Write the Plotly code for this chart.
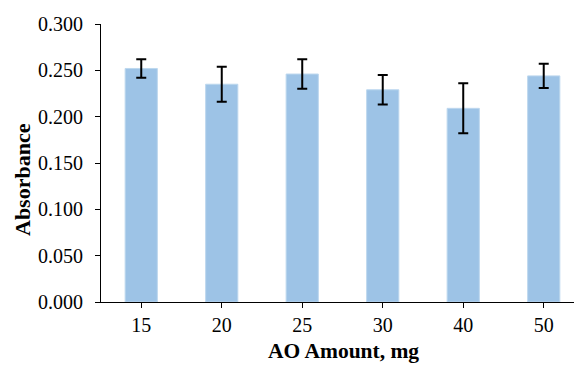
import plotly.graph_objects as go

categories = ["15", "20", "25", "30", "40", "50"]
absorbance = [0.252, 0.235, 0.246, 0.229, 0.209, 0.244]
errors = [0.010, 0.019, 0.016, 0.016, 0.027, 0.013]
y_ticks = [0.0, 0.05, 0.10, 0.15, 0.20, 0.25, 0.30]
y_ticklabels = ["0.000", "0.050", "0.100", "0.150", "0.200", "0.250", "0.300"]

fig = go.Figure()
fig.add_trace(go.Bar(
    x=categories, y=absorbance, width=0.4,
    marker=dict(color="#9DC3E6", line=dict(color="#BDD7EE", width=1)),
    error_y=dict(type="data", array=errors, visible=True, color="black", thickness=2, width=5),
))

fig.update_layout(
    width=574, height=365,
    margin=dict(l=101, r=0, t=24, b=63),
    paper_bgcolor="white", plot_bgcolor="white",
    font=dict(family="Liberation Serif, Times New Roman, serif", size=20, color="black"),
    showlegend=False,
    xaxis=dict(
        type="category", range=[-0.5, 5.376],
        showline=True, linecolor="black", linewidth=1,
        ticks="outside", ticklen=5, tickcolor="black",
        showgrid=False, tickfont=dict(size=20),
    ),
    yaxis=dict(
        range=[0, 0.3], tickvals=y_ticks, ticktext=y_ticklabels,
        showline=True, linecolor="black", linewidth=1,
        ticks="outside", ticklen=5, tickcolor="black",
        showgrid=False, zeroline=False, tickfont=dict(size=20),
        ticklabelstandoff=8,
    ),
    annotations=[
        dict(
            text="<b>AO Amount, mg</b>", xref="paper", yref="paper",
            x=(343 - 101) / 473, y=-(351 - 302) / 278, xanchor="center", yanchor="middle",
            showarrow=False, font=dict(size=21.5),
        ),
        dict(
            text="<b>Absorbance</b>", xref="paper", yref="paper", textangle=-90,
            x=-(101 - 22) / 473, y=(302 - 180) / 278, xanchor="center", yanchor="middle",
            showarrow=False, font=dict(size=22),
        ),
    ],
)

fig.write_html("out.html")
